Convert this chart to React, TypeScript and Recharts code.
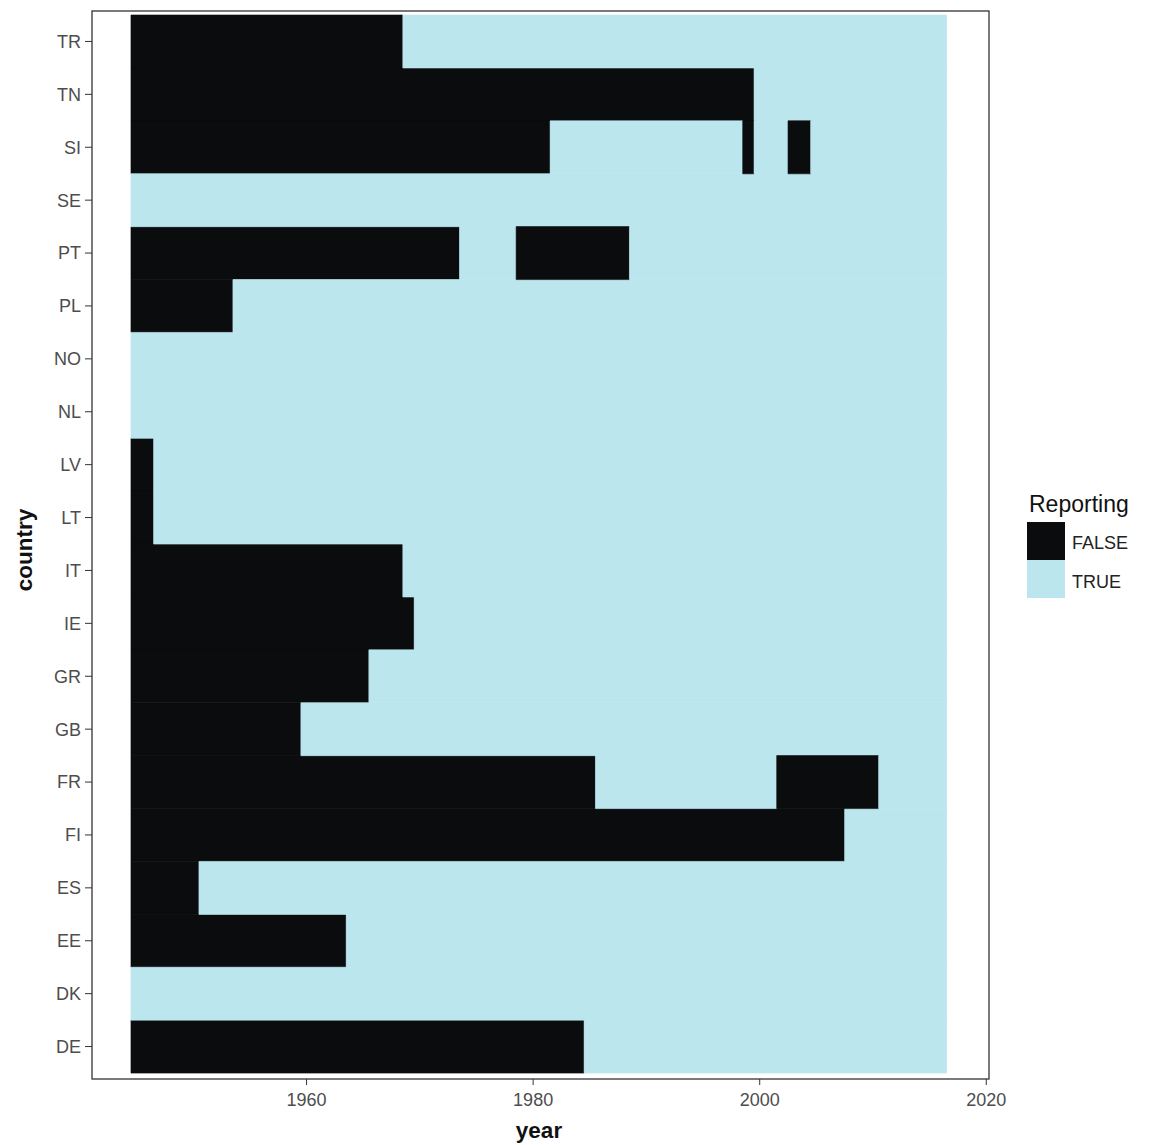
import React from "react";
import { BarChart, Bar, XAxis, YAxis } from "recharts";

// Countries top to bottom, as in the reference
const countries = [
  "TR", "TN", "SI", "SE", "PT", "PL", "NO", "NL", "LV", "LT",
  "IT", "IE", "GR", "GB", "FR", "FI", "ES", "EE", "DK", "DE",
];

const firstYear = 1945;
const lastYear = 2016;

// Years NOT reporting ([from, to], inclusive), same order as countries
const falseRuns: [number, number][][] = [
  [[1945, 1968]], // TR
  [[1945, 1999]], // TN
  [[1945, 1981], [1999, 1999], [2003, 2004]], // SI
  [], // SE
  [[1945, 1973], [1979, 1988]], // PT
  [[1945, 1953]], // PL
  [], // NO
  [], // NL
  [[1945, 1946]], // LV
  [[1945, 1946]], // LT
  [[1945, 1968]], // IT
  [[1945, 1969]], // IE
  [[1945, 1965]], // GR
  [[1945, 1959]], // GB
  [[1945, 1985], [2002, 2010]], // FR
  [[1945, 2007]], // FI
  [[1945, 1950]], // ES
  [[1945, 1963]], // EE
  [], // DK
  [[1945, 1984]], // DE
];

const xTicks = [1960, 1980, 2000, 2020];
const legendItems = ["FALSE", "TRUE"];

const FALSE_COLOR = "#0a0c0e";
const TRUE_COLOR = "#bce6ee";
const FONT = "'Liberation Sans', Arial, sans-serif";

// alternating run lengths: s0 = FALSE, s1 = TRUE, s2 = FALSE ...
const segKeys = ["s0", "s1", "s2", "s3", "s4", "s5"];

function buildRows() {
  return countries.map((country, idx) => {
    const start = firstYear - 0.5;
    const end = lastYear + 0.5;
    const lens: number[] = [];
    let pos = start;
    falseRuns[idx].forEach(([a, b]) => {
      const s = a - 0.5;
      const e = b + 0.5;
      const gap = s - pos;
      if (lens.length === 0 && gap > 0) {
        lens.push(0);
        lens.push(gap);
      } else if (gap > 0) {
        lens.push(gap);
      }
      lens.push(e - s);
      pos = e;
    });
    if (lens.length === 0) lens.push(0);
    lens.push(end - pos);

    const row: any = { country, base: start };
    segKeys.forEach((k, i) => {
      row[k] = lens[i] ?? 0;
    });
    return row;
  });
}

export default function App() {
  const rows = buildRows();

  return (
    <div
      style={{
        position: "absolute",
        left: 0,
        top: 0,
        width: 1153,
        height: 1145,
        background: "#fff",
        fontFamily: FONT,
      }}
    >
      <BarChart
        layout="vertical"
        width={1153}
        height={1145}
        data={rows}
        margin={{ top: 11, right: 164, left: 32, bottom: 36 }}
        barCategoryGap={0}
        barGap={0}
      >
        <XAxis
          type="number"
          domain={[1941.06, 2020.24]}
          allowDataOverflow
          ticks={xTicks}
          interval={0}
          axisLine={false}
          tickLine={{ stroke: "#333" }}
          tickSize={6}
          tickMargin={8}
          height={30}
          tick={{ fontSize: 18, fill: "#4d4d4d", fontFamily: FONT }}
        />
        <YAxis
          type="category"
          dataKey="country"
          width={60}
          interval={0}
          padding={{ top: 4, bottom: 6 }}
          axisLine={false}
          tickLine={{ stroke: "#333" }}
          tickSize={7}
          tickMargin={4}
          tick={{ fontSize: 18, fill: "#4d4d4d", fontFamily: FONT }}
        />
        <Bar dataKey="base" stackId="a" fill="transparent" isAnimationActive={false} />
        {segKeys.map((k, i) => {
          const c = i % 2 === 0 ? FALSE_COLOR : TRUE_COLOR;
          return (
            <Bar
              key={k}
              dataKey={k}
              stackId="a"
              fill={c}
              stroke={c}
              strokeWidth={0.6}
              isAnimationActive={false}
            />
          );
        })}
      </BarChart>

      {/* panel border, axis titles and legend */}
      <svg
        width={1153}
        height={1145}
        style={{ position: "absolute", left: 0, top: 0, pointerEvents: "none" }}
      >
        <rect x={92} y={11} width={897} height={1068} fill="none" stroke="#333" strokeWidth={1.3} />
        <text
          x={539}
          y={1138}
          textAnchor="middle"
          fontSize={22.5}
          fontWeight="bold"
          fill="#111"
          fontFamily={FONT}
        >
          year
        </text>
        <text
          transform="translate(32,550) rotate(-90)"
          textAnchor="middle"
          fontSize={22.5}
          fontWeight="bold"
          fill="#111"
          fontFamily={FONT}
        >
          country
        </text>
        <text x={1029} y={512} fontSize={23} fill="#111" fontFamily={FONT}>
          Reporting
        </text>
        {legendItems.map((label, i) => (
          <g key={label}>
            <rect
              x={1027}
              y={522 + i * 38}
              width={38}
              height={38}
              fill={i === 0 ? FALSE_COLOR : TRUE_COLOR}
            />
            <text x={1072} y={549 + i * 39} fontSize={18} fill="#222" fontFamily={FONT}>
              {label}
            </text>
          </g>
        ))}
      </svg>
    </div>
  );
}
